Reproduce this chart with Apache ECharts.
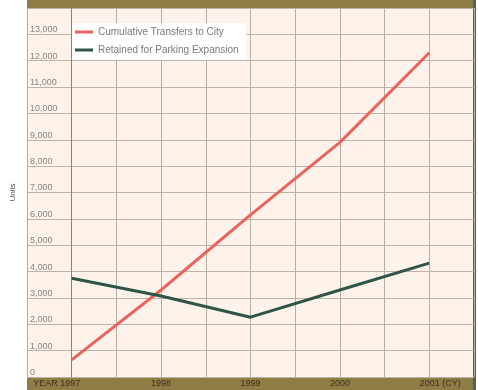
<!DOCTYPE html>
<html>
<head>
<meta charset="utf-8">
<script src="https://cdn.jsdelivr.net/npm/echarts@6/dist/echarts.min.js"></script>
<style>
 html, body { margin: 0; padding: 0; background: #fff; }
 #chart { width: 478px; height: 390px; }
</style>
</head>
<body>
<div id="chart"></div>
<script>
const categories = ['YEAR 1997', '1998', '1999', '2000', '2001 (CY)']
const transfersToCity = [650, 3300, 6150, 8900, 12300]
const retainedForParking = [3750, 3070, 2270, 3300, 4320]
const seriesNames = ['Cumulative Transfers to City', 'Retained for Parking Expansion']

const toPoints = (arr) => arr.map((v, i) => [i, v])

const chartDom = document.getElementById('chart')
const myChart = echarts.init(chartDom)

const option = {
 animation: false,
 backgroundColor: '#ffffff',
 grid: {
  left: 27,
  right: 4,
  top: 8,
  bottom: 13,
  show: true,
  backgroundColor: '#fdf3ea',
  borderWidth: 0
 },
 legend: {
  data: seriesNames,
  orient: 'vertical',
  left: 72,
  top: 23,
  padding: [4, 8, 5, 3],
  itemGap: 8,
  itemWidth: 18,
  itemHeight: 3,
  icon: 'rect',
  backgroundColor: '#ffffff',
  textStyle: { fontSize: 10, color: '#7a7a7a', fontFamily: 'Liberation Sans' }
 },
 xAxis: {
  type: 'value',
  min: -0.5,
  max: 4.5,
  interval: 0.5,
  axisLine: { show: false },
  axisTick: { show: false },
  splitLine: { show: true, lineStyle: { color: '#b9ada0', width: 1 } },
  axisLabel: {
   margin: 2,
   fontSize: 9,
   color: '#3b3220',
   fontFamily: 'Liberation Sans',
   showMinLabel: true,
   showMaxLabel: true,
   formatter: function (v) {
    const i = Math.round(v * 2) / 2
    if (!Number.isInteger(i)) return ''
    if (i === 0) return '{first|' + categories[i] + '}'
    if (i === categories.length - 1) return '{last|' + categories[i] + '}'
    return categories[i]
   },
   rich: {
    first: { fontSize: 9, color: '#3b3220', padding: [0, 30, 0, 0] },
    last: { fontSize: 9, color: '#3b3220', padding: [0, 0, 0, 22] }
   }
  }
 },
 yAxis: {
  type: 'value',
  min: 0,
  max: 14000,
  interval: 1000,
  name: 'Units',
  nameLocation: 'middle',
  nameRotate: 90,
  nameGap: 10,
  nameTextStyle: { fontSize: 8, color: '#555', fontFamily: 'Liberation Sans' },
  axisLine: { show: true, lineStyle: { color: '#8a8478', width: 1 } },
  axisTick: { show: false },
  splitLine: { show: true, lineStyle: { color: '#bdb3a8', width: 1 } },
  axisLabel: {
   inside: true,
   margin: 3,
   fontSize: 9,
   color: '#8a8580',
   fontFamily: 'Liberation Sans',
   verticalAlign: 'bottom',
   showMaxLabel: false
  }
 },
 graphic: [
  {
   type: 'rect',
   shape: { x: 27, y: 0, width: 447, height: 8 },
   style: { fill: '#8e7d45' },
   z: 0
  },
  {
   type: 'rect',
   shape: { x: 27, y: 377, width: 447, height: 13 },
   style: { fill: '#8e7d45' },
   z: 0
  },
  {
   type: 'rect',
   shape: { x: 473, y: 0, width: 3, height: 390 },
   style: { fill: '#4f6462' },
   z: 0
  }
 ],
 series: [
  {
   name: seriesNames[0],
   type: 'line',
   data: toPoints(transfersToCity),
   symbol: 'none',
   lineStyle: { color: '#e8645d', width: 3 },
   itemStyle: { color: '#e8645d' },
   z: 5
  },
  {
   name: seriesNames[1],
   type: 'line',
   data: toPoints(retainedForParking),
   symbol: 'none',
   lineStyle: { color: '#2f5548', width: 3 },
   itemStyle: { color: '#2f5548' },
   z: 5
  }
 ]
}

myChart.setOption(option, true)
</script>
</body>
</html>
